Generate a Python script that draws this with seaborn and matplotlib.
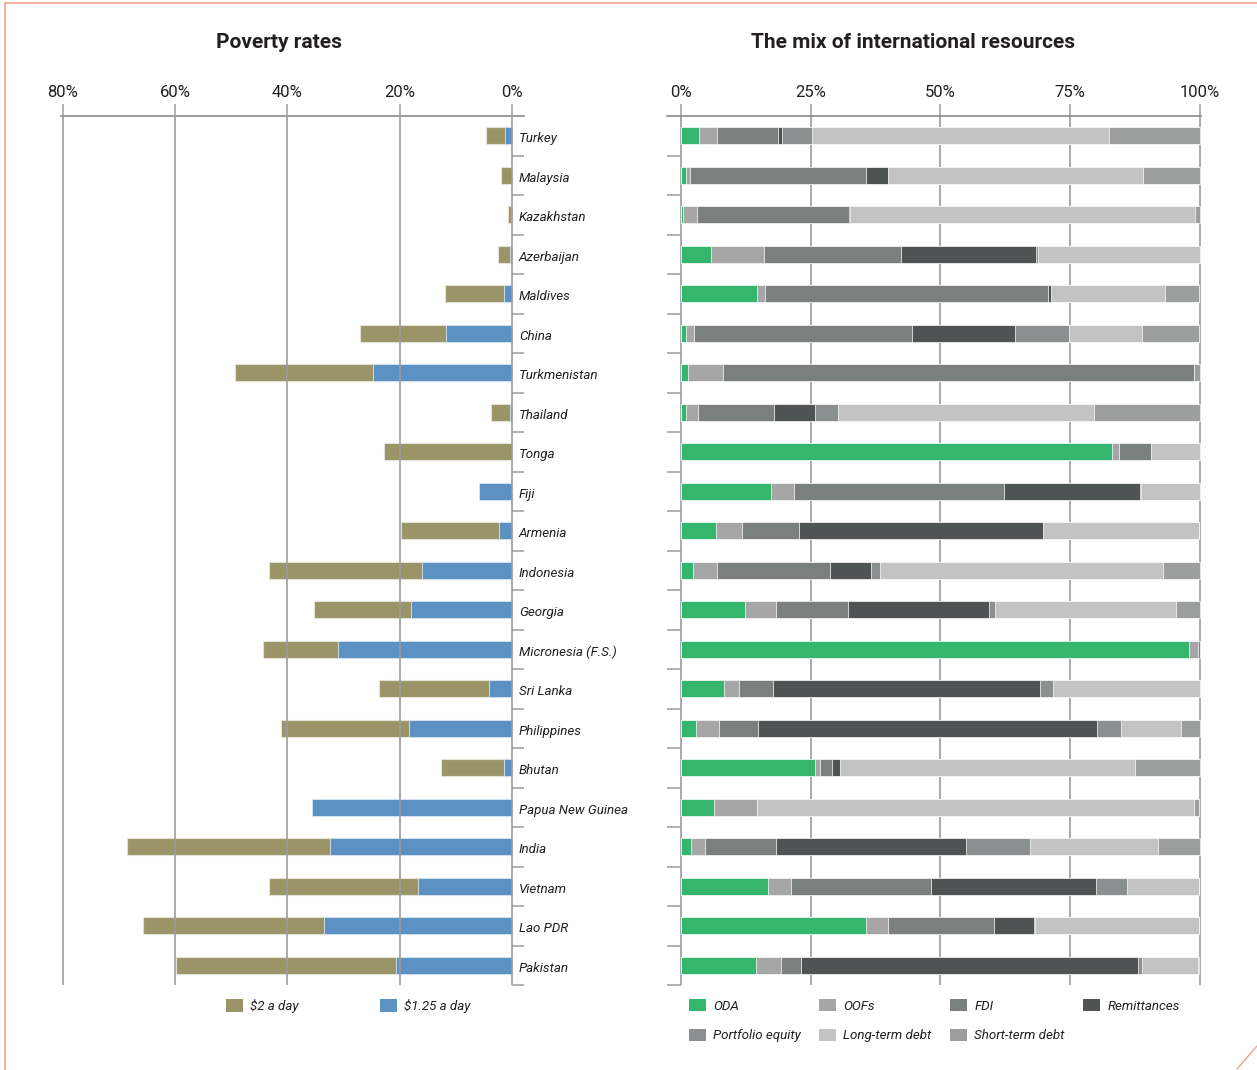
import numpy as np
import pandas as pd
import seaborn as sns
import matplotlib
matplotlib.use("Agg")
import matplotlib.pyplot as plt
from matplotlib.patches import Patch
from matplotlib.lines import Line2D

# ---------------- data ----------------
countries = ["Turkey", "Malaysia", "Kazakhstan", "Azerbaijan", "Maldives", "China",
             "Turkmenistan", "Thailand", "Tonga", "Fiji", "Armenia", "Indonesia",
             "Georgia", "Micronesia (F.S.)", "Sri Lanka", "Philippines", "Bhutan",
             "Papua New Guinea", "India", "Vietnam", "Lao PDR", "Pakistan"]

# Poverty rates (% of population)
pov_2_day = [4.7, 2.0, 0.7, 2.5, 12.0, 27.1, 49.4, 3.7, 22.8, 0.0, 19.8, 43.3,
             35.3, 44.4, 23.7, 41.2, 12.7, 0.0, 68.6, 43.3, 65.7, 59.9]
pov_125_day = [1.3, 0.0, 0.1, 0.4, 1.5, 11.8, 24.8, 0.4, 0.0, 5.9, 2.3, 16.0,
               18.0, 31.0, 4.1, 18.4, 1.5, 35.6, 32.4, 16.8, 33.5, 20.7]
poverty_labels = [r"\$2 a day", r"\$1.25 a day"]

# Mix of international resources (% of total)
resource_names = ["ODA", "OOFs", "FDI", "Remittances", "Portfolio equity",
                  "Long-term debt", "Short-term debt"]
oda = [3.4, 0.9, 0.3, 5.7, 14.6, 0.9, 1.3, 0.9, 83.1, 17.3, 6.8, 2.4, 12.3, 97.9,
       8.3, 2.8, 25.9, 6.3, 1.9, 16.7, 35.6, 14.5]
oofs = [3.6, 0.8, 2.7, 10.2, 1.6, 1.6, 6.7, 2.3, 1.3, 4.5, 4.9, 4.6, 6.1, 1.7,
        2.8, 4.6, 0.9, 8.3, 2.7, 4.5, 4.2, 4.7]
fdi = [11.7, 33.9, 29.4, 26.5, 54.5, 42.0, 90.9, 14.8, 6.2, 40.5, 11.0, 21.7,
       13.7, 0.4, 6.7, 7.4, 2.3, 0.0, 13.8, 27.0, 20.5, 3.9]
remittances = [0.8, 4.2, 0.15, 26.1, 0.5, 19.9, 0.0, 7.9, 0.0, 26.1, 47.0, 7.9,
               27.3, 0.0, 51.3, 65.4, 1.5, 0.0, 36.6, 31.8, 7.8, 65.0]
portfolio = [5.7, 0.0, 0.0, 0.2, 0.0, 10.3, 0.0, 4.4, 0.0, 0.15, 0.0, 1.8, 1.2,
             0.0, 2.6, 4.5, 0.0, 0.0, 12.3, 6.0, 0.2, 0.8]
lt_debt = [57.3, 49.2, 66.4, 31.3, 22.0, 14.1, 0.0, 49.3, 9.4, 11.5, 30.2, 54.5,
           34.8, 0.0, 28.3, 11.7, 56.9, 84.2, 24.6, 13.9, 31.6, 10.8]
st_debt = [17.5, 11.0, 1.1, 0.0, 6.7, 11.1, 1.1, 20.4, 0.0, 0.0, 0.0, 7.1, 4.6,
           0.0, 0.0, 3.6, 12.5, 1.1, 8.1, 0.0, 0.0, 0.2]

left_ticks = [80, 60, 40, 20, 0]
right_ticks = [0, 25, 50, 75, 100]

# ---------------- style ----------------
sns.set_theme(style="white")
plt.rcParams["font.family"] = ["Roboto", "DejaVu Sans"]

OLIVE = "#9A9468"
BLUE = "#5B92C3"
res_colors = ["#35B66F", "#A5A6A5", "#7B7F7E", "#505354", "#8C8F8F", "#C2C3C2", "#9C9E9E"]
GRID = "#9C9C9C"
TXT = "#231F20"

W, H = 1257, 1070
fig = plt.figure(figsize=(W / 100, H / 100), dpi=100)

def fx(px):
    return px / W

def fy(py):
    return 1 - py / H

ax_top, ax_bot = 116, 985
axL = fig.add_axes([fx(61), fy(ax_bot), fx(524) - fx(61), fy(ax_top) - fy(ax_bot)])
axR = fig.add_axes([fx(667), fy(ax_bot), fx(1201) - fx(667), fy(ax_top) - fy(ax_bot)])

# ---------------- left panel: poverty ----------------
dfp = pd.DataFrame({"country": countries, "d2": pov_2_day, "d125": pov_125_day})
sns.barplot(data=dfp, x="d2", y="country", order=countries, orient="h",
            color=OLIVE, saturation=1, width=0.44, edgecolor="#E4E2D6",
            linewidth=0.8, ax=axL)
sns.barplot(data=dfp, x="d125", y="country", order=countries, orient="h",
            color=BLUE, saturation=1, width=0.44, edgecolor="#DCE6EF",
            linewidth=0.6, ax=axL)

axL.set_xlim(80.35, -2.14)
axL.set_ylim(21.5, -0.5)
axL.set_xlabel("")
axL.set_ylabel("")
axL.set_xticks(left_ticks)
axL.set_xticklabels([f"{t}%" for t in left_ticks])
axL.xaxis.tick_top()
axL.tick_params(axis="x", which="major", top=True, bottom=False, length=8.6,
                width=1.1, color=GRID, pad=3, labelsize=12, labelcolor=TXT)
axL.set_yticks([])
axL.set_yticks(np.arange(0.5, 22, 1), minor=True)
axL.yaxis.set_ticks_position("right")
axL.tick_params(axis="y", which="minor", right=True, left=False, direction="in",
                length=8.6, width=1.1, color=GRID)
axL.grid(axis="x", color=GRID, linewidth=1.2)
axL.set_axisbelow(False)
for s in ["left", "right", "bottom"]:
    axL.spines[s].set_visible(False)
axL.spines["top"].set_color("#8A8A8A")
axL.spines["top"].set_linewidth(1.2)

for i, c in enumerate(countries):
    axL.text(-1.25, i + 0.08, c, ha="left", va="center", fontsize=9.6,
             style="italic", color=TXT, clip_on=False)

# ---------------- right panel: resource mix ----------------
comps = [oda, oofs, fdi, remittances, portfolio, lt_debt, st_debt]
cum = np.cumsum(np.array(comps), axis=0)
for k in range(len(comps) - 1, -1, -1):
    dfr = pd.DataFrame({"country": countries, "v": cum[k]})
    sns.barplot(data=dfr, x="v", y="country", order=countries, orient="h",
                color=res_colors[k], saturation=1, width=0.44,
                edgecolor="white", linewidth=0.5, ax=axR)

axR.set_xlim(-2.7, 100.2)
axR.set_ylim(21.5, -0.5)
axR.set_xlabel("")
axR.set_ylabel("")
axR.set_xticks(right_ticks)
axR.set_xticklabels([f"{t}%" for t in right_ticks])
axR.xaxis.tick_top()
axR.tick_params(axis="x", which="major", top=True, bottom=False, length=8.6,
                width=1.1, color=GRID, pad=3, labelsize=12, labelcolor=TXT)
axR.set_yticks([])
axR.set_yticks(np.arange(0.5, 22, 1), minor=True)
axR.tick_params(axis="y", which="minor", left=True, right=False, direction="in",
                length=10, width=1.1, color=GRID)
axR.grid(axis="x", color=GRID, linewidth=1.2)
axR.set_axisbelow(True)
for s in ["left", "right", "bottom"]:
    axR.spines[s].set_visible(False)
axR.spines["top"].set_color("#8A8A8A")
axR.spines["top"].set_linewidth(1.2)

# ---------------- titles ----------------
fig.text(fx(279), fy(42), "Poverty rates", ha="center", va="center",
         fontsize=15, fontweight="bold", color=TXT)
fig.text(fx(913), fy(42), "The mix of international resources", ha="center",
         va="center", fontsize=15, fontweight="bold", color=TXT)

# ---------------- legends ----------------
leg_font = {"size": 9.6, "style": "italic"}
hL = [Patch(facecolor=OLIVE, edgecolor="none"), Patch(facecolor=BLUE, edgecolor="none")]
legL = fig.legend(hL, poverty_labels, ncol=2, loc="upper left",
                  bbox_to_anchor=(fx(226), fy(999)), frameon=False, prop=leg_font,
                  handlelength=1.25, handleheight=1.05, handletextpad=0.55,
                  columnspacing=6.1, borderpad=0, borderaxespad=0)

order = [0, 4, 1, 5, 2, 6, 3]
hR = [Patch(facecolor=res_colors[k], edgecolor="none") for k in order]
lR = [resource_names[k] for k in order]
legR = fig.legend(hR, lR, ncol=4, loc="upper left",
                  bbox_to_anchor=(fx(689), fy(999)), frameon=False, prop=leg_font,
                  handlelength=1.25, handleheight=1.05, handletextpad=0.55,
                  columnspacing=1.4, labelspacing=1.2, borderpad=0, borderaxespad=0)
for t in legL.get_texts() + legR.get_texts():
    t.set_color(TXT)

# ---------------- page border ----------------
BORDER = "#F4A48C"
fig.add_artist(Line2D([fx(5), 1], [fy(3), fy(3)], color=BORDER, lw=1.2))
fig.add_artist(Line2D([fx(5), fx(5)], [fy(3), 0], color=BORDER, lw=1.2))
fig.add_artist(Line2D([fx(1237), 1], [fy(1069), fy(1046)], color=BORDER, lw=1.0))

fig.savefig("out.png", dpi=100, facecolor="white")
